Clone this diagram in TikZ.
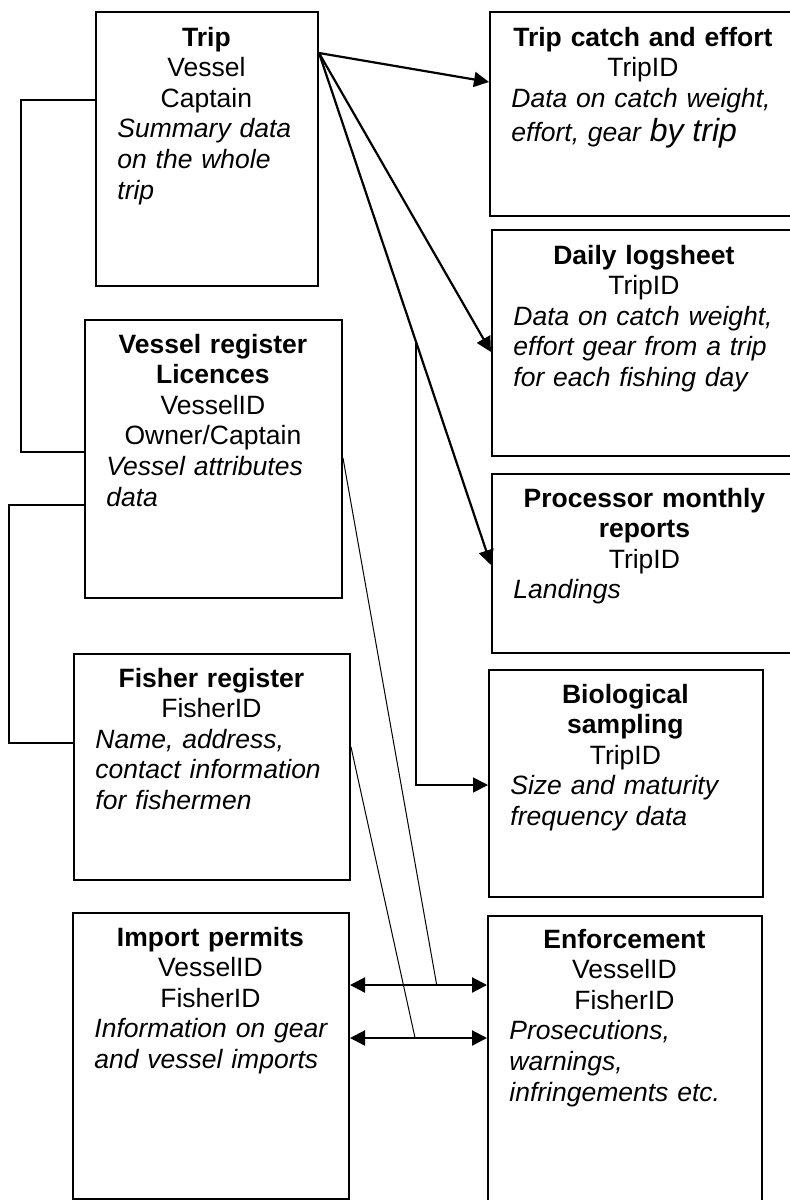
\documentclass[tikz,border=0pt]{standalone}
\usepackage{fontspec}
\setmainfont{Liberation Sans}
\usetikzlibrary{arrows.meta,calc}
\begin{document}
\begin{tikzpicture}[x=0.5pt,y=-0.5pt,
  box/.style={draw,line width=1pt,rectangle,inner sep=0pt,anchor=north west},
  txt/.style={anchor=base west,inner sep=0pt,font=\fontsize{13.25pt}{15.3pt}\selectfont},
  arr/.style={line width=1.1pt,-{Triangle[length=7.5pt,width=7.5pt]}},
  darr/.style={line width=1.1pt,{Triangle[length=7.5pt,width=7.5pt]}-{Triangle[length=7.5pt,width=7.5pt]}},
  conn/.style={line width=0.8pt},
  thinline/.style={line width=0.5pt}]
\useasboundingbox (0,0) rectangle (790,1200);

% boxes
\node[box,minimum width=111pt,minimum height=137pt] (trip) at (95,11) {};
\node[box,minimum width=153.5pt,minimum height=102pt] (tce) at (489,11) {};
\node[box,minimum width=152.5pt,minimum height=113pt] (daily) at (491,229) {};
\node[box,minimum width=153pt,minimum height=89.5pt] (proc) at (491,473) {};
\node[box,minimum width=137pt,minimum height=113.5pt] (bio) at (488,669) {};
\node[box,minimum width=128.5pt,minimum height=139pt] (vreg) at (84,319) {};
\node[box,minimum width=138pt,minimum height=113pt] (fisher) at (73,653) {};
\node[box,minimum width=138pt,minimum height=143pt] (imp) at (72,912) {};
\node[box,minimum width=137pt,minimum height=150pt] (enf) at (487,915) {};

% texts
\node[txt,text width=89pt] (tripT) at (117,46)
 {\centering\textbf{Trip}\\Vessel\\Captain\par\raggedright\itshape Summary data\\on the whole\\trip\par};
\node[txt,text width=131.5pt] (tceT) at (511,46)
 {\centering\textbf{Trip catch and effort}\\TripID\par\raggedright\itshape \mbox{Data on catch weight,}\\[2pt]\mbox{effort, gear {\fontsize{16pt}{16pt}\selectfont by trip}}\par};
\node[txt,text width=130.5pt] (dailyT) at (513,264)
 {\centering\textbf{Daily logsheet}\\TripID\par\raggedright\itshape \mbox{Data on catch weight,}\\\mbox{effort gear from a trip}\\\mbox{for each fishing day}\par};
\node[txt,text width=131pt] (procT) at (513,507)
 {\centering\textbf{Processor monthly}\\\textbf{reports}\\TripID\par\raggedright\itshape Landings\par};
\node[txt,text width=115pt] (bioT) at (510,703)
 {\centering\textbf{Biological}\\\textbf{sampling}\\TripID\par\raggedright\itshape \mbox{Size and maturity}\\\mbox{frequency data}\par};
\node[txt,text width=106.5pt] (vregT) at (106,353)
 {\centering\textbf{Vessel register}\\\textbf{Licences}\\VesselID\\Owner/Captain\par\raggedright\itshape \mbox{Vessel attributes}\\data\par};
\node[txt,text width=116pt] (fisherT) at (95,687)
 {\centering\textbf{Fisher register}\\FisherID\par\raggedright\itshape \mbox{Name, address,}\\\mbox{contact information}\\\mbox{for fishermen}\par};
\node[txt,text width=116pt] (impT) at (94,946)
 {\centering\textbf{Import permits}\\VesselID\\FisherID\par\raggedright\itshape \mbox{Information on gear}\\\mbox{and vessel imports}\par};
\node[txt,text width=115pt] (enfT) at (509,948)
 {\centering\textbf{Enforcement}\\VesselID\\FisherID\par\raggedright\itshape Prosecutions,\\warnings,\\\mbox{infringements etc.}\par};

% arrows from Trip
\coordinate (ts) at ($(trip.north east)+(0,42)$);
\coordinate (pe) at ($(proc.north west)+(0,92)$);
\draw[arr] (ts) -- ($(tce.north west)+(0,71)$);
\draw[arr] (ts) -- ($(daily.north west)+(0,123)$);
\draw[arr] (ts) -- (pe);
\coordinate (br) at ($(ts)!0.563!(pe)$);
\draw[conn,-{Triangle[length=7.5pt,width=7.5pt]}] (br) |- ($(bio.north west)+(0,116)$);

% left connectors
\draw[conn] ($(trip.north west)+(0,89)$) -- ++(-74,0) |- ($(vreg.north west)+(0,133)$);
\draw[conn] ($(vreg.north west)+(0,186)$) -- ++(-75,0) |- ($(fisher.north west)+(0,90)$);

% double arrows
\coordinate (ua1) at ($(imp.north east)+(0,73)$);
\coordinate (ua2) at ($(enf.north west)+(0,70)$);
\coordinate (la1) at ($(imp.north east)+(0,126)$);
\coordinate (la2) at ($(enf.north west)+(0,123)$);
\draw[darr] (ua1) -- (ua2);
\draw[darr] (la1) -- (la2);
\draw[thinline] ($(vreg.north east)+(0,139)$) -- ($(ua1)!0.633!(ua2)$);
\draw[thinline] ($(fisher.north east)+(0,94)$) -- ($(la1)!0.475!(la2)$);
\end{tikzpicture}
\end{document}
